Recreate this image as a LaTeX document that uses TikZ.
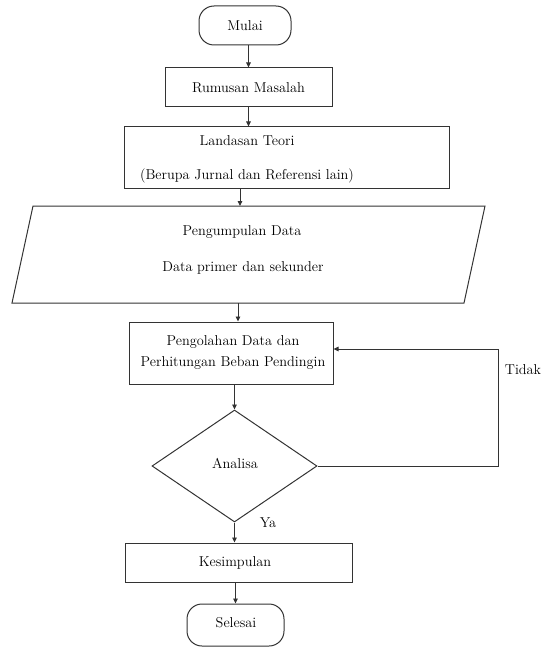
\documentclass[tikz,border=0pt]{standalone}
\usetikzlibrary{arrows.meta,shapes.geometric}
\begin{document}
\begin{tikzpicture}[x=1pt,y=-1pt,
  line/.style={draw=black!80, line width=1pt},
  arr/.style={draw=black!80, line width=0.9pt, -{Triangle[length=5pt,width=4.5pt]}},
  box/.style={line, rectangle, inner sep=0pt},
  term/.style={line, rectangle, rounded corners=15pt, inner sep=0pt},
  txt/.style={font=\fontsize{14.3}{21}\selectfont, inner sep=0pt, align=center},
]
\useasboundingbox (0,0) rectangle (542,650);

% shapes
\node[term, txt, minimum width=92pt, minimum height=39pt] (mulai) at (245,25.5) {Mulai};
\node[box, txt, minimum width=167pt, minimum height=39pt] (rumus) at (248.5,87.5) {Rumusan Masalah};
\node[box, minimum width=325pt, minimum height=61pt] (landasan) at (286.5,157.5) {};
\node[txt] (land1) at (247,141) {Landasan Teori};
\node[txt] (land2) at (247,176) {(Berupa Jurnal dan Referensi lain)};

\coordinate (pa) at (33,206);
\coordinate (pb) at (485,206);
\coordinate (pc) at (464,303);
\coordinate (pd) at (12,303);
\draw[line] (pa) -- (pb) -- (pc) -- (pd) -- cycle;
\node[txt] (peng1) at (242,232) {Pengumpulan Data};
\node[txt] (peng2) at (243,268) {Data primer dan sekunder};
\coordinate (pgtop) at (240,206);
\coordinate (pgbot) at (238,303);

\node[box, minimum width=204pt, minimum height=62pt] (olah) at (231,353) {};
\node[txt] (olahtxt) at (233,352.5) {Pengolahan Data dan\\Perhitungan Beban Pendingin};

\node[line, diamond, minimum width=165pt, minimum height=112pt, inner sep=0pt] (analisa) at (234.5,466) {};
\node[txt] (analisatxt) at (235,463) {Analisa};

\node[box, minimum width=227pt, minimum height=39pt] (kes) at (238.5,562.5) {};
\node[txt] (kestxt) at (235,563) {Kesimpulan};
\node[term, minimum width=97pt, minimum height=42pt] (sel) at (235.5,625) {};
\node[txt] (seltxt) at (236,623) {Selesai};

\node[txt] (tidak) at (523,370) {Tidak};
\node[txt] (ya) at (268,523) {Ya};

% connectors
\draw[arr] (mulai.south -| rumus.north) -- (rumus.north);
\draw[arr] (rumus.south) -- (rumus.south |- landasan.north);
\draw[arr] (pgtop |- landasan.south) -- (pgtop);
\draw[arr] (pgbot) -- (pgbot |- olah.north);
\draw[arr] (olah.south -| analisa.north) -- (analisa.north);
\draw[arr] (analisa.south) -- (analisa.south |- kes.north);
\draw[arr] (kes.south -| sel.north) -- (sel.north);

\coordinate (fbr) at (498,466);
\coordinate (fbt) at (498,349);
\draw[arr] (analisa.east) -- (fbr) -- (fbt) -- (olah.east |- fbt);
\end{tikzpicture}
\end{document}
